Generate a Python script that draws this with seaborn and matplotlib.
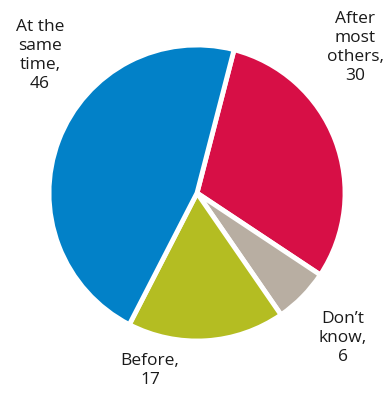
import matplotlib
matplotlib.use("Agg")
import matplotlib.pyplot as plt
import seaborn as sns

categories = ["After\nmost\nothers", "Don\u2019t\nknow", "Before", "At the\nsame\ntime"]
values = [30, 6, 17, 46]
colors = ["#D70F46", "#B8AEA2", "#B4BD22", "#0281C8"]

sns.set_theme(style="white")
plt.rcParams["font.family"] = ["Open Sans", "DejaVu Sans"]

fig = plt.figure(figsize=(3.85, 3.94), dpi=100)
ax = fig.add_axes([0, 0, 1, 1])
ax.pie(values, colors=sns.color_palette(colors), startangle=75.5, counterclock=False,
       wedgeprops=dict(edgecolor="white", linewidth=3.5))
ax.set_xlim(-1.331, 1.270)
ax.set_ylim(-1.358, 1.304)
ax.set_aspect("equal")
ax.axis("off")

label_pos = [(1.068, 0.986), (0.986, -0.98), (-0.318, -1.196), (-1.061, 0.932)]
for name, v, (x, y) in zip(categories, values, label_pos):
    ax.text(x, y, f"{name},\n{v}", ha="center", va="center", fontsize=12.5,
            color="#1a1a1a", linespacing=1.25)

fig.savefig("out.png", dpi=100)
